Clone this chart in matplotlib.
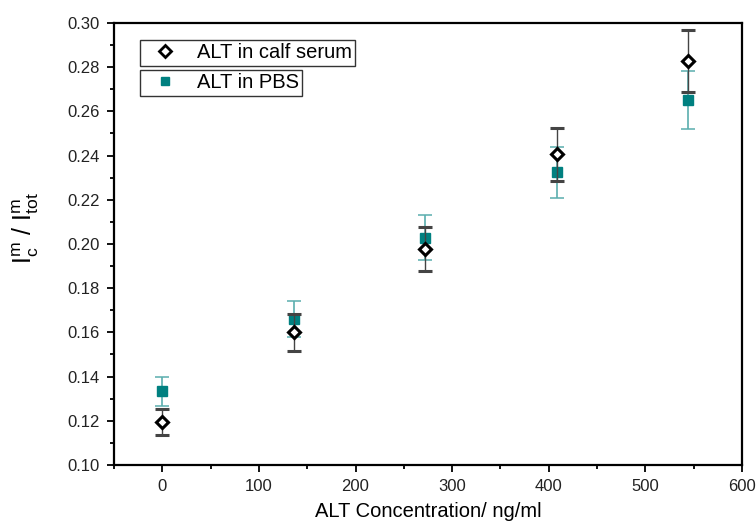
import matplotlib.pyplot as plt
from matplotlib.ticker import MultipleLocator, FormatStrFormatter
from matplotlib.lines import Line2D

plt.rcParams['font.family'] = ['Liberation Sans', 'DejaVu Sans']
plt.rcParams['mathtext.fontset'] = 'custom'
plt.rcParams['mathtext.rm'] = 'Liberation Sans'
plt.rcParams['mathtext.it'] = 'Liberation Sans'

conc = [0, 136, 272, 408, 544]

serum = [0.1195, 0.160, 0.1976, 0.2405, 0.2827]
serum_err = [0.0060, 0.0083, 0.0099, 0.0118, 0.0141]

pbs = [0.1333, 0.1661, 0.2029, 0.2325, 0.2652]
pbs_err = [0.0067, 0.0082, 0.0100, 0.0115, 0.0132]

teal = '#008080'

fig = plt.figure(figsize=(7.56, 5.22), dpi=100)
ax = fig.add_axes([0.1508, 0.1092, 0.8307, 0.8468])

ax.errorbar(conc, pbs, yerr=pbs_err, fmt='s', color=teal, ms=7.5,
            ecolor='#5aaeae', elinewidth=1.2, capsize=5, capthick=1.1,
            zorder=3)
ax.errorbar(conc, serum, yerr=serum_err, fmt='D', mfc='white', mec='black',
            mew=2.2, ms=6.5, ecolor='#444444', elinewidth=1.0, capsize=5,
            capthick=1.0, zorder=4)

ax.set_xlim(-50, 600)
ax.set_ylim(0.10, 0.30)
ax.xaxis.set_major_locator(MultipleLocator(100))
ax.xaxis.set_minor_locator(MultipleLocator(50))
ax.yaxis.set_major_locator(MultipleLocator(0.02))
ax.yaxis.set_minor_locator(MultipleLocator(0.01))
ax.yaxis.set_major_formatter(FormatStrFormatter('%.2f'))

ax.tick_params(which='both', direction='out', top=False, right=False,
               width=1.3, labelsize=12, colors='black', labelcolor='#222222')
ax.tick_params(which='major', length=5, pad=5)
ax.tick_params(which='minor', length=3)
for s in ax.spines.values():
    s.set_linewidth(1.6)

ax.set_xlabel('ALT Concentration/ ng/ml', fontsize=14.5, labelpad=6)
ax.set_ylabel(r'$\mathregular{I_c^m\ /\ I_{tot}^m}$', fontsize=18)
ax.yaxis.set_label_coords(-0.116, 0.535)

h1 = Line2D([], [], ls='none', marker='D', mfc='white', mec='black',
            mew=2, ms=6)
h2 = Line2D([], [], ls='none', marker='s', color=teal, ms=6)
leg_kw = dict(fontsize=14.5, fancybox=False, edgecolor='#333333',
              framealpha=1, handlelength=2.2, handletextpad=0.45,
              borderpad=0.17, borderaxespad=0)
leg1 = ax.legend([h1], ['ALT in calf serum'], loc='upper left',
                 bbox_to_anchor=(0.041, 0.962), **leg_kw)
leg1.get_frame().set_linewidth(1.0)
ax.add_artist(leg1)
leg2 = ax.legend([h2], ['ALT in PBS'], loc='upper left',
                 bbox_to_anchor=(0.041, 0.894), **leg_kw)
leg2.get_frame().set_linewidth(1.0)

fig.savefig('out.png', dpi=100)
